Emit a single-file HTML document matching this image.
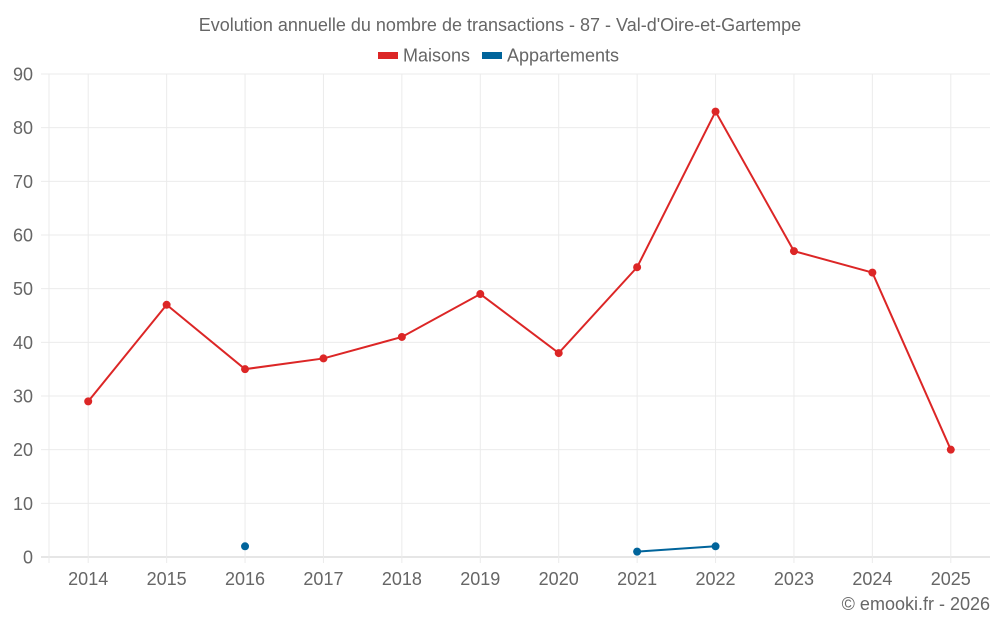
<!DOCTYPE html>
<html><head><meta charset="utf-8"><style>
body{margin:0;background:#fff;font-family:"Liberation Sans",sans-serif}
svg text{font-family:"Liberation Sans",sans-serif;fill:#666}
</style></head><body>
<svg id="c" width="1000" height="625">
<text x="500" y="31" text-anchor="middle" font-size="18">Evolution annuelle du nombre de transactions - 87 - Val-d'Oire-et-Gartempe</text>
<g><rect x="378" y="52" width="20" height="7" fill="#dc2626"/><text x="403" y="61.5" font-size="18">Maisons</text></g>
<g><rect x="482" y="52" width="20" height="7" fill="#00649b"/><text x="507" y="61.5" font-size="18">Appartements</text></g>
<text x="990" y="610" text-anchor="end" font-size="18">© emooki.fr - 2026</text>
<g id="grid"></g><g id="marks"></g>
</svg>
<script>
const categories=["2014","2015","2016","2017","2018","2019","2020","2021","2022","2023","2024","2025"];
const maisons=[29,47,35,37,41,49,38,54,83,57,53,20];
const appartements=[null,null,2,null,null,null,null,1,2,null,null,null];
const yTicks=[0,10,20,30,40,50,60,70,80,90];
const L=49,R=990,T=74,B=557,yMax=90;
const bw=(R-L)/categories.length;
const x=i=>L+bw*(i+0.5);
const y=v=>B-(v/yMax)*(B-T);
const NS="http://www.w3.org/2000/svg";
const g=document.getElementById('grid'),m=document.getElementById('marks');
function mk(p,tag,a){const e=document.createElementNS(NS,tag);for(const k in a)e.setAttribute(k,a[k]);p.appendChild(e);return e;}
yTicks.forEach(t=>{
 const l=mk(g,'line',{x1:41,x2:R,y1:y(t),y2:y(t),stroke:t===0?'#ccc':'#ebebeb'});
 
 
 const tx=mk(g,'text',{x:33,y:y(t)+6.5,'text-anchor':'end','font-size':18});tx.textContent=t;
 
 
});
mk(g,'line',{x1:L,x2:L,y1:T,y2:B+6,stroke:'#ebebeb'});
categories.forEach((c,i)=>{
 const l=mk(g,'line',{x1:x(i),x2:x(i),y1:T,y2:B+6,stroke:'#ebebeb'});
 
 
 const tx=mk(g,'text',{x:x(i),y:585,'text-anchor':'middle','font-size':18});tx.textContent=c;
 
 
});
function series(vals,color,name){
 let segs=[],cur=[];
 vals.forEach((v,i)=>{if(v==null){if(cur.length)segs.push(cur);cur=[];}else cur.push([x(i),y(v)]);});
 if(cur.length)segs.push(cur);
 segs.forEach(s=>{if(s.length>1){const p=mk(m,'polyline',{points:s.map(q=>q.join(',')).join(' '),fill:'none',stroke:color,'stroke-width':2});
  
  }});
 vals.forEach((v,i)=>{if(v==null)return;const c=mk(m,'circle',{cx:x(i),cy:y(v),r:4,fill:color});
  
  });
}
series(maisons,'#dc2626','maisons');
series(appartements,'#00649b','appartements');
</script>
</body></html>
